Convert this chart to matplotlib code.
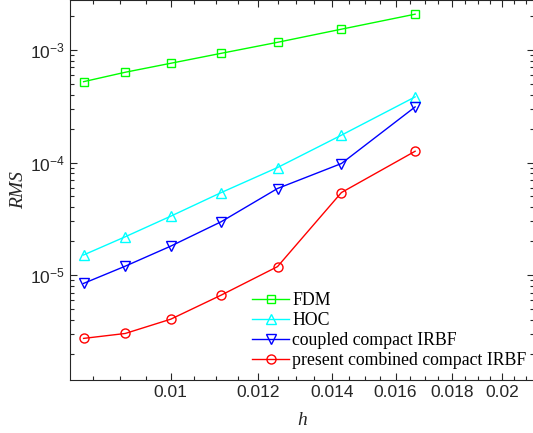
import numpy as np
import matplotlib
matplotlib.use("Agg")
import matplotlib.pyplot as plt
from matplotlib.ticker import FixedLocator, MultipleLocator, NullFormatter, LogLocator

plt.rcParams["mathtext.fontset"] = "custom"
plt.rcParams["mathtext.rm"] = "Liberation Sans"
plt.rcParams["mathtext.it"] = "Liberation Sans:italic"

# grid sizes h = 1/120 ... 1/60
h = [1/120, 1/110, 1/100, 1/90, 1/80, 1/70, 1/60]
rms_fdm = [5.23e-4, 6.34e-4, 7.62e-4, 9.34e-4, 1.17e-3, 1.53e-3, 2.08e-3]
rms_hoc = [1.51e-5, 2.19e-5, 3.34e-5, 5.41e-5, 9.03e-5, 1.75e-4, 3.83e-4]
rms_coupled = [8.44e-6, 1.20e-5, 1.81e-5, 2.98e-5, 5.88e-5, 9.8e-5, 3.12e-4]
rms_combined = [2.74e-6, 3.03e-6, 4.06e-6, 6.64e-6, 1.19e-5, 5.41e-5, 1.26e-4]

xticks = [0.01, 0.012, 0.014, 0.016, 0.018, 0.02]
xticklabels = ["0.01", "0.012", "0.014", "0.016", "0.018", "0.02"]

fig = plt.figure(figsize=(5.33, 4.33), dpi=100)
ax = fig.add_axes([70/533, 53/433, 464/533, 380/433])

ax.plot(h, rms_fdm, "-s", color="#00ff00", lw=1, ms=5.5, mfc="none", label="FDM")
ax.plot(h, rms_hoc, "-^", color="#00ffff", lw=1, ms=7, mfc="none", label="HOC")
ax.plot(h, rms_coupled, "-v", color="#0000ff", lw=1, ms=7, mfc="none", label="coupled compact IRBF")
ax.plot(h, rms_combined, "-o", color="#ff0000", lw=1, ms=6.5, mfc="none", label="present combined compact IRBF")

ax.set_xscale("log")
ax.set_yscale("log")
ax.set_xlim(0.00810, 0.02137)
ax.set_ylim(1.17e-6, 2.78e-3)

ax.xaxis.set_major_locator(FixedLocator(xticks))
ax.set_xticklabels(xticklabels)
ax.xaxis.set_minor_locator(MultipleLocator(0.0005))
ax.xaxis.set_minor_formatter(NullFormatter())
ax.yaxis.set_major_locator(LogLocator(base=10, numticks=10))
ax.yaxis.set_minor_locator(LogLocator(base=10, subs=np.arange(2, 10), numticks=10))
ax.yaxis.set_minor_formatter(NullFormatter())

ax.tick_params(which="both", direction="in", top=True, right=True,
               colors="#262626", labelsize=12.5)
ax.tick_params(which="major", length=5, width=0.8)
ax.tick_params(which="minor", length=3, width=0.8)
for lab in ax.get_xticklabels() + ax.get_yticklabels():
    lab.set_family("Liberation Sans")
for s in ax.spines.values():
    s.set_color("#262626")
    s.set_linewidth(0.8)

ax.set_xlabel("h", family="Liberation Serif", style="italic", fontsize=14, color="#262626", labelpad=9)
ax.set_ylabel("RMS", family="Liberation Serif", style="italic", fontsize=14, color="#262626", labelpad=2)

ax.legend(loc="upper left", bbox_to_anchor=(182/464, 1 - 292/380), frameon=False,
          prop={"family": "Liberation Serif", "size": 12.8},
          handlelength=2.1, handletextpad=0.17, labelspacing=0.17, borderaxespad=0,
          borderpad=0)

fig.savefig("out.png", dpi=100)
